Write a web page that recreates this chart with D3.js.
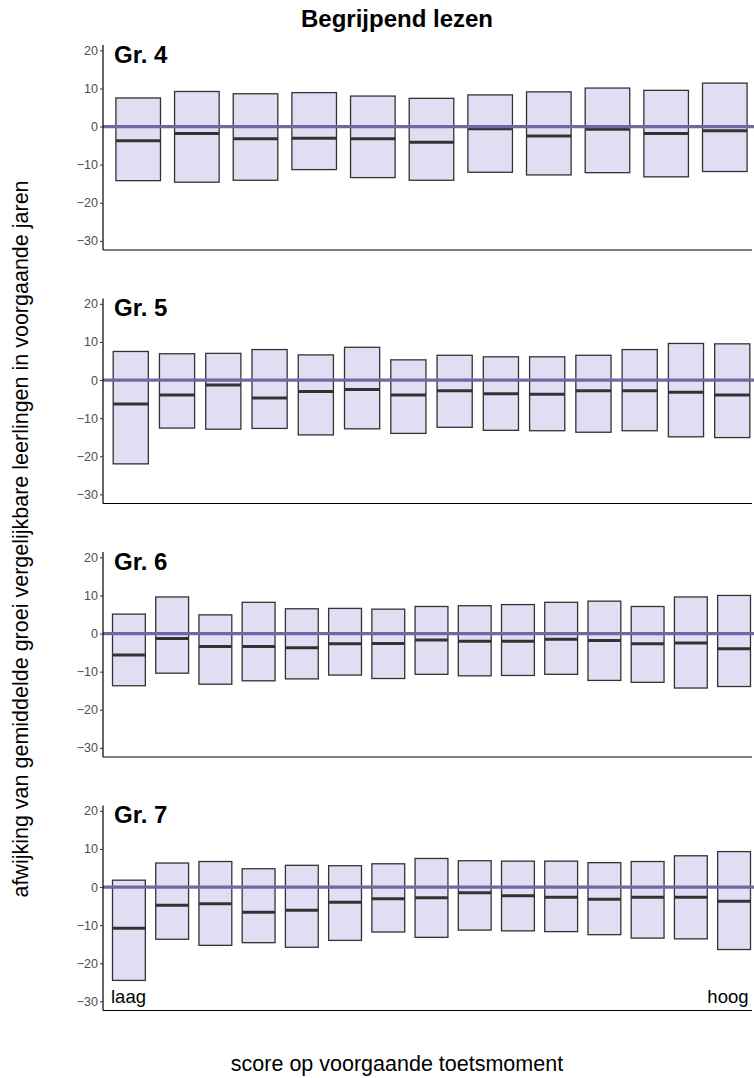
<!DOCTYPE html>
<html>
<head>
<meta charset="utf-8">
<script src="https://cdn.jsdelivr.net/npm/d3@7"></script>
<style>
  body { margin: 0; background: #fff; }
  svg { display: block; font-family: "Liberation Sans", Arial, Helvetica, sans-serif; }
</style>
</head>
<body>
<svg id="chart" width="754" height="1078"></svg>
<script>
// ---- data ----
const panelLabels = ["Gr. 4", "Gr. 5", "Gr. 6", "Gr. 7"];
const yTicks = [20, 10, 0, -10, -20, -30];

const gr4Upper  = [7.5, 9.2, 8.6, 8.9, 8.0, 7.4, 8.3, 9.1, 10.1, 9.5, 11.4];
const gr4Median = [-3.7, -1.8, -3.2, -3.1, -3.2, -4.1, -0.6, -2.5, -0.7, -1.8, -1.1];
const gr4Lower  = [-14.2, -14.6, -14.1, -11.3, -13.4, -14.1, -12.0, -12.7, -12.1, -13.2, -11.8];

const gr5Upper  = [7.5, 6.9, 7.0, 8.0, 6.6, 8.6, 5.3, 6.5, 6.1, 6.1, 6.5, 8.0, 9.6, 9.5];
const gr5Median = [-6.3, -3.9, -1.3, -4.7, -3.0, -2.5, -3.9, -2.8, -3.6, -3.7, -2.8, -2.8, -3.2, -3.9];
const gr5Lower  = [-22.0, -12.6, -12.9, -12.7, -14.4, -12.8, -14.0, -12.4, -13.2, -13.3, -13.7, -13.3, -14.9, -15.1];

const gr6Upper  = [5.1, 9.6, 4.9, 8.2, 6.5, 6.6, 6.4, 7.1, 7.3, 7.6, 8.2, 8.5, 7.1, 9.6, 10.0];
const gr6Median = [-5.6, -1.3, -3.4, -3.4, -3.7, -2.7, -2.6, -1.7, -2.0, -2.0, -1.5, -1.8, -2.7, -2.5, -4.0];
const gr6Lower  = [-13.7, -10.4, -13.3, -12.4, -11.9, -10.9, -11.8, -10.7, -11.1, -11.0, -10.7, -12.3, -12.8, -14.3, -13.9];

const gr7Upper  = [1.8, 6.3, 6.7, 4.8, 5.7, 5.6, 6.1, 7.5, 6.9, 6.8, 6.8, 6.4, 6.7, 8.2, 9.3];
const gr7Median = [-10.8, -4.8, -4.4, -6.6, -6.1, -4.0, -3.1, -2.8, -1.5, -2.3, -2.7, -3.2, -2.7, -2.7, -3.7];
const gr7Lower  = [-24.5, -13.7, -15.3, -14.6, -15.8, -14.0, -11.8, -13.2, -11.3, -11.5, -11.7, -12.5, -13.4, -13.6, -16.4];

const panelUpper  = [gr4Upper, gr5Upper, gr6Upper, gr7Upper];
const panelMedian = [gr4Median, gr5Median, gr6Median, gr7Median];
const panelLower  = [gr4Lower, gr5Lower, gr6Lower, gr7Lower];

const titleText = "Begrijpend lezen";
const xTitle = "score op voorgaande toetsmoment";
const yTitle = "afwijking van gemiddelde groei vergelijkbare leerlingen in voorgaande jaren";
const lowLabel = "laag", highLabel = "hoog";

// ---- layout ----
const svg = d3.select("#chart");
const left = 103, right = 760, axisEnd = 752;
const panelTop0 = 45, panelH = 205, panelPitch = 253.5;
const fillCol = "#e1def4", strokeCol = "#333333", zeroCol = "#6b6ba3";

svg.append("text").attr("x", 397).attr("y", 27).attr("text-anchor", "middle")
  .attr("font-size", 24).attr("font-weight", "bold").attr("fill", "#000").text(titleText);

svg.append("text").attr("x", 397).attr("y", 1071).attr("text-anchor", "middle")
  .attr("font-size", 21.5).attr("fill", "#000").text(xTitle);

svg.append("text").attr("transform", "translate(28,539) rotate(-90)").attr("text-anchor", "middle")
  .attr("font-size", 21.5).attr("fill", "#000").text(yTitle);

panelLabels.forEach((lab, p) => {
  const top = panelTop0 + p * panelPitch;
  const bottom = top + panelH;
  const y = d3.scaleLinear().domain([-32.4, 21.4]).range([bottom, top]);
  const n = panelUpper[p].length;
  const x = d3.scalePoint().domain(d3.range(n)).range([left, right]).padding(0.6);
  const bw = x.step() * 0.76;
  const g = svg.append("g");

  const rows = d3.range(n).map(i => ({i, up: panelUpper[p][i], med: panelMedian[p][i], lo: panelLower[p][i]}));

  // bars
  g.selectAll("rect.box").data(rows).join("rect")
    .attr("x", d => x(d.i) - bw / 2).attr("width", bw)
    .attr("y", d => y(d.up)).attr("height", d => y(d.lo) - y(d.up))
    .attr("fill", fillCol).attr("stroke", strokeCol).attr("stroke-width", 1.3);

  // median lines
  g.selectAll("line.med").data(rows).join("line")
    .attr("x1", d => x(d.i) - bw / 2).attr("x2", d => x(d.i) + bw / 2)
    .attr("y1", d => y(d.med)).attr("y2", d => y(d.med))
    .attr("stroke", strokeCol).attr("stroke-width", 3);

  // zero line
  g.append("line").attr("x1", left).attr("x2", 754)
    .attr("y1", y(0)).attr("y2", y(0))
    .attr("stroke", zeroCol).attr("stroke-width", 3.3);

  // y axis
  const ya = g.append("g").attr("transform", `translate(${left},0)`)
    .call(d3.axisLeft(y).tickValues(yTicks).tickSize(3).tickPadding(2)
      .tickFormat(d => d < 0 ? "\u2212" + Math.abs(d) : d));
  ya.select(".domain").attr("stroke", "#000").attr("stroke-width", 1.2)
    .attr("d", `M0,${top}V${bottom}`);
  ya.selectAll(".tick line").attr("stroke", "#333").attr("stroke-width", 1);
  ya.selectAll(".tick text").attr("fill", "#4d4d4d").attr("font-size", 12.5)
    .attr("font-family", "Liberation Sans, Arial, sans-serif");

  // x axis line
  g.append("line").attr("x1", left).attr("x2", axisEnd)
    .attr("y1", bottom).attr("y2", bottom).attr("stroke", "#000").attr("stroke-width", 1.2);

  // panel label
  g.append("text").attr("x", left + 11).attr("y", top + 17.5).attr("font-size", 24)
    .attr("font-weight", "bold").attr("fill", "#000").text(lab);

  if (p === panelLabels.length - 1) {
    g.append("text").attr("x", left + 8).attr("y", bottom - 7.5).attr("font-size", 18.5)
      .attr("fill", "#000").text(lowLabel);
    g.append("text").attr("x", axisEnd - 3.5).attr("y", bottom - 7.5).attr("font-size", 18.5)
      .attr("text-anchor", "end").attr("fill", "#000").text(highLabel);
  }
});
</script>
</body>
</html>
